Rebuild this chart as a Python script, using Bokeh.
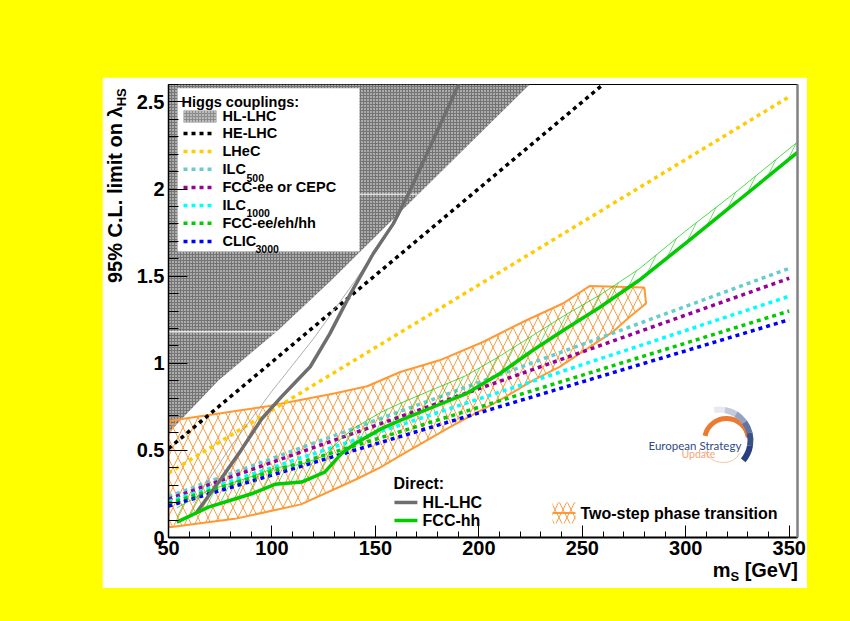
from bokeh.plotting import figure
from bokeh.models import Range1d, FixedTicker, LinearAxis, Div
from bokeh.layouts import column
from bokeh.embed import file_html
from bokeh.resources import INLINE
from bokeh.core.properties import value

FONT = value("Liberation Sans")

# ---------------- axes ----------------
x_major = [50, 100, 150, 200, 250, 300, 350]
x_minor = [60, 70, 80, 90, 110, 120, 130, 140, 160, 170, 180, 190, 210, 220, 230, 240,
           260, 270, 280, 290, 310, 320, 330, 340]
y_major = [0, 0.5, 1, 1.5, 2, 2.5]
y_minor = [0.1, 0.2, 0.3, 0.4, 0.6, 0.7, 0.8, 0.9, 1.1, 1.2, 1.3, 1.4, 1.6, 1.7, 1.8, 1.9,
           2.1, 2.2, 2.3, 2.4, 2.6]
y_tick_labels = {0: "0", 0.5: "0.5", 1: "1", 1.5: "1.5", 2: "2", 2.5: "2.5"}

# ---------------- Higgs couplings projections (straight lines) ----------------
ms_ends = [50, 350]
he_lhc_m = [50, 260]
he_lhc = [0.51, 2.60]
lhec = [0.37, 2.53]
ilc500 = [0.235, 1.545]
fccee_cepc = [0.22, 1.488]
ilc1000 = [0.205, 1.385]
fcc_all = [0.195, 1.30]
clic3000 = [0.18, 1.25]

# HL-LHC couplings excluded region (above this boundary)
hl_reg_m = [50, 74, 103, 128.7, 224.5, 50]
hl_reg_l = [0.60, 0.90, 1.19, 1.477, 2.60, 2.60]
gap_l = [1.18, 1.97]
gap_m0 = [50, 142.3]
gap_m1 = [102.5, 170.5]

# ---------------- Direct searches ----------------
hl_dir_m = [63.7, 75, 85, 95, 104, 112, 118.5, 128, 138, 149, 158.6, 166.7, 176.3, 191]
hl_dir_l = [0.146, 0.33, 0.50, 0.68, 0.80, 0.90, 0.98, 1.17, 1.40, 1.63, 1.80, 1.99, 2.24, 2.62]
hl_edge_m = [62, 80, 100, 120, 140, 160, 175]
hl_edge_l = [0.20, 0.52, 0.84, 1.14, 1.47, 1.82, 2.15]

fcc_dir_m = [54, 69.3, 90.2, 101.4, 114.3, 125.5, 133.6, 140, 152.9, 162, 177.9, 194, 210,
             226.1, 242.2, 258.3, 277.3, 300, 325, 354]
fcc_dir_l = [0.088, 0.174, 0.251, 0.305, 0.318, 0.375, 0.481, 0.538, 0.625, 0.672, 0.749,
             0.826, 0.94, 1.075, 1.2, 1.32, 1.475, 1.69, 1.93, 2.21]
fcc_up_l = [0.17, 0.27, 0.35, 0.40, 0.42, 0.47, 0.57, 0.63, 0.72, 0.77, 0.85, 0.93, 1.04,
            1.16, 1.28, 1.39, 1.54, 1.76, 1.99, 2.27]

# ---------------- Two-step phase transition region ----------------
ts_m = [50, 51.6, 98, 130, 146, 162, 181, 202, 223, 240.6, 253.5, 280, 280.8, 272.8, 264.7,
        239, 226.2, 210, 186, 162, 152, 140, 114, 82, 51.6, 50]
ts_l = [0.672, 0.672, 0.753, 0.826, 0.868, 0.95, 1.017, 1.122, 1.247, 1.343, 1.443, 1.435,
        1.343, 1.266, 1.18, 0.979, 0.902, 0.787, 0.634, 0.47, 0.40, 0.33, 0.19, 0.107, 0.06, 0.06]

ORANGE = "#ff9933"
HATCH_OR = "#ff9d45"

# ---------------- figure ----------------
p = figure(width=705, height=511, x_range=Range1d(50, 354), y_range=Range1d(0, 2.6),
           output_backend="svg", toolbar_location=None,
           min_border_left=66, min_border_right=10, min_border_top=7, min_border_bottom=51,
           background_fill_color="white", border_fill_color="white",
           margin=(77, 0, 0, 102))
p.grid.grid_line_color = None
p.outline_line_color = "black"
p.outline_line_width = 1

p.xaxis.ticker = FixedTicker(ticks=x_major, minor_ticks=x_minor)
p.yaxis.ticker = FixedTicker(ticks=y_major, minor_ticks=y_minor)
p.yaxis.major_label_overrides = y_tick_labels
for ax in (p.xaxis[0], p.yaxis[0]):
    ax.major_label_text_font = "Liberation Sans"
    ax.major_label_text_font_style = "bold"
    ax.major_label_text_font_size = "20px"
    ax.major_label_text_color = "black"
    ax.major_tick_out = 0
    ax.minor_tick_out = 0
    ax.axis_line_color = "black"
    ax.major_tick_line_color = "black"
    ax.minor_tick_line_color = "black"
p.xaxis.major_tick_in = 12
p.xaxis.minor_tick_in = 6
p.yaxis.major_tick_in = 19
p.yaxis.minor_tick_in = 10
p.xaxis.axis_line_width = 2
p.yaxis.axis_line_width = 1.5
p.xaxis.major_label_standoff = 3
p.yaxis.major_label_standoff = 4

ra = LinearAxis(ticker=FixedTicker(ticks=[]), major_label_text_font_size="0px",
                axis_line_color="#808080", axis_line_width=2.5,
                major_tick_line_color=None, minor_tick_line_color=None)
p.add_layout(ra, "right")

# HL-LHC couplings region
p.patch(hl_reg_m, hl_reg_l, fill_color="#747474", line_color=None,
        hatch_pattern="dot", hatch_color="white", hatch_scale=3, hatch_weight=1)
p.segment(x0=gap_m0, y0=gap_l, x1=gap_m1, y1=gap_l, line_color="white", line_width=1.2)

# two-step region (cross hatch from two diagonal hatches)
p.patch(ts_m, ts_l, fill_alpha=0, line_color=None, hatch_pattern="right_diagonal_line",
        hatch_color=HATCH_OR, hatch_scale=20, hatch_weight=1)
p.patch(ts_m, ts_l, fill_alpha=0, line_color=ORANGE, line_width=2,
        hatch_pattern="left_diagonal_line", hatch_color=HATCH_OR, hatch_scale=20, hatch_weight=1)

# coupling projections
dash = "4 4"
p.line(he_lhc_m, he_lhc, line_color="black", line_width=3.5, line_dash=dash)
p.line(ms_ends, lhec, line_color="#ffcc00", line_width=3.5, line_dash=dash)
p.line(ms_ends, ilc500, line_color="#66cccc", line_width=3.5, line_dash=dash)
p.line(ms_ends, fccee_cepc, line_color="#990099", line_width=3.5, line_dash=dash)
p.line(ms_ends, ilc1000, line_color="#00ffff", line_width=3.5, line_dash=dash)
p.line(ms_ends, fcc_all, line_color="#00cc00", line_width=3.5, line_dash=dash)
p.line(ms_ends, clic3000, line_color="#0000ff", line_width=3.5, line_dash=dash)

# direct searches
p.line(hl_edge_m, hl_edge_l, line_color="#9a9a9a", line_width=0.8)
p.line(hl_dir_m, hl_dir_l, line_color="#6e6e6e", line_width=3.5)
band_x = fcc_dir_m + fcc_dir_m[::-1]
band_y = fcc_dir_l + fcc_up_l[::-1]
p.patch(band_x, band_y, fill_alpha=0, line_color=None, hatch_pattern="right_diagonal_line",
        hatch_color="#00cc00", hatch_scale=24, hatch_weight=0.7, hatch_alpha=0.8)
p.line(fcc_dir_m, fcc_up_l, line_color="#00cc00", line_width=0.7)
p.line(fcc_dir_m, fcc_dir_l, line_color="#00cc00", line_width=3.5)

# ---------------- Higgs couplings legend ----------------
p.quad(left=[54.35], right=[142.3], bottom=[1.642], top=[2.578], fill_color="white", line_color=None)
p.text(x=[56.3], y=[2.50], text=["Higgs couplings:"], text_font=FONT, text_font_style="bold",
       text_font_size="14.5px", text_baseline="middle", text_color="black")
p.quad(left=[57.25], right=[73.2], bottom=[2.382], top=[2.451], fill_color="#8c8c8c", line_color=None,
       hatch_pattern="dot", hatch_color="white", hatch_scale=3, hatch_weight=1)
leg_names = ["HL-LHC", "HE-LHC", "LHeC", "ILC", "FCC-ee or CEPC", "ILC", "FCC-ee/eh/hh", "CLIC"]
leg_y = [2.417, 2.319, 2.216, 2.113, 2.009, 1.906, 1.803, 1.699]
p.text(x=[76.1] * len(leg_names), y=leg_y, text=leg_names, text_font=FONT, text_font_style="bold",
       text_font_size="14.5px", text_baseline="middle", text_color="black")
p.text(x=[87.7, 87.7, 92.05], y=[2.066, 1.860, 1.653], text=["500", "1000", "3000"], text_font=FONT,
       text_font_style="bold", text_font_size="10.5px", text_baseline="middle", text_color="black")
leg_colors = ["black", "#ffcc00", "#66cccc", "#990099", "#00ffff", "#00cc00", "#0000ff"]
p.segment(x0=[57.25] * 7, x1=[71.75] * 7, y0=leg_y[1:], y1=leg_y[1:], line_color=leg_colors,
          line_width=3.5, line_dash=dash)

# ---------------- Direct legend ----------------
p.text(x=[158.75], y=[0.31], text=["Direct:"], text_font=FONT, text_font_style="bold",
       text_font_size="16px", text_baseline="middle", text_color="black")
p.segment(x0=[159.2, 159.2], x1=[170.3, 170.3], y0=[0.201, 0.0976], y1=[0.201, 0.0976],
          line_color=["#6e6e6e", "#00cc00"], line_width=3.5)
p.text(x=[172.8, 172.8], y=[0.201, 0.0976], text=["HL-LHC", "FCC-hh"], text_font=FONT,
       text_font_style="bold", text_font_size="16px", text_baseline="middle", text_color="black")
p.quad(left=[235.6], right=[246.7], bottom=[0.080], top=[0.201], fill_alpha=0, line_color=None,
       hatch_pattern="right_diagonal_line", hatch_color=HATCH_OR, hatch_scale=16, hatch_weight=1)
p.quad(left=[235.6], right=[246.7], bottom=[0.080], top=[0.201], fill_alpha=0, line_color=None,
       hatch_pattern="left_diagonal_line", hatch_color=HATCH_OR, hatch_scale=16, hatch_weight=1)
p.segment(x0=[235.6], x1=[246.7], y0=[0.14], y1=[0.14], line_color=ORANGE, line_width=2)
p.text(x=[249.1], y=[0.138], text=["Two-step phase transition"], text_font=FONT,
       text_font_style="bold", text_font_size="16px", text_baseline="middle", text_color="black")

# ---------------- logo ----------------
p.arc(x=[319.7], y=[0.557], radius=22, radius_units="screen", start_angle=8, end_angle=168,
      start_angle_units="deg", end_angle_units="deg", direction="anticlock",
      line_color="#ec7a32", line_width=5)
p.arc(x=[318.0], y=[0.545], radius=20, radius_units="screen", start_angle=205, end_angle=330,
      start_angle_units="deg", end_angle_units="deg", direction="anticlock",
      line_color="#f7c6a5", line_width=1)
arc_cols = ["#e6e9ef", "#c3cad9", "#95a3c1", "#61739f", "#3b5085", "#2a3f7e"]
arc_a0 = [80, 58, 36, 14, -10, -40]
arc_a1 = [100, 80, 58, 36, 14, -10]
p.arc(x=[316.3] * 6, y=[0.557] * 6, radius=31, radius_units="screen", start_angle=arc_a0,
      end_angle=arc_a1, start_angle_units="deg", end_angle_units="deg", direction="anticlock",
      line_color=arc_cols, line_width=6)
p.text(x=[282.0], y=[0.528], text=["European Strategy"], text_font=value("Lato"),
       text_font_size="11.5px", text_baseline="alphabetic", text_color="#2f4a8a")
p.text(x=[297.9], y=[0.482], text=["Update"], text_font=value("Lato"),
       text_font_size="10.5px", text_baseline="alphabetic", text_color="#f2a679")

# ---------------- axis titles (HTML, with subscripts) ----------------
span_style = ("font-family:'Liberation Sans',Arial,sans-serif;font-weight:bold;font-size:20px;"
              "color:black;white-space:nowrap")
sub_style = "font-size:13px;vertical-align:-4px"
xdiv = Div(text=f'<span style="{span_style}">m<sub style="{sub_style}">S</sub> [GeV]</span>',
           width=110, height=30, margin=(-29, 0, 0, 688),
           styles={"text-align": "right", "line-height": "23px", "position": "relative",
                   "z-index": "5"})
ydiv = Div(text=f'<span style="{span_style}">95% C.L. limit on λ<sub style="{sub_style}">HS</sub></span>',
           width=215, height=30, margin=(-306, 0, 0, 104),
           styles={"transform": "rotate(-90deg)", "transform-origin": "0 0",
                   "line-height": "23px", "position": "relative", "z-index": "5"})

layout = column(p, xdiv, ydiv, width=850, height=621, styles={"background-color": "#ffff00"})
open("out.html", "w").write(file_html(layout, INLINE))
